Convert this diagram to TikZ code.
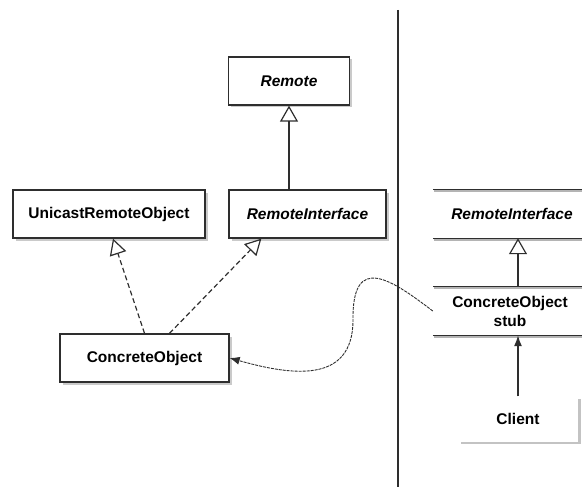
\documentclass[tikz,border=0pt]{standalone}
\usepackage{fontspec}
\setmainfont{Liberation Sans}
\usetikzlibrary{arrows.meta,shadows,calc}

\definecolor{ink}{HTML}{2E2E2E}
\definecolor{shade}{HTML}{B4B4B4}

\tikzset{
  classbox/.style={draw=ink, line width=1.3pt, fill=white, rectangle,
    minimum height=48pt, inner sep=0pt,
    font=\fontsize{15.5}{18}\selectfont\bfseries,
    drop shadow={shadow xshift=2.5pt, shadow yshift=-2.5pt, fill=shade, opacity=0.7}},
  iface/.style={font=\fontsize{15.5}{18}\selectfont\bfseries\itshape},
  openbox/.style={rectangle, minimum height=48pt, inner sep=0pt,
    align=center, font=\fontsize{15.5}{18}\selectfont\bfseries},
  rule/.style={draw=ink, line width=1.3pt},
  ruleshade/.style={draw=shade, line width=2pt},
  realizes/.style={draw=ink, line width=1.2pt, dash pattern=on 5pt off 3pt,
    -{Triangle[open, length=16pt, width=17pt, line width=1.2pt]}},
  extends/.style={draw=ink, line width=1.4pt,
    -{Triangle[open, length=16pt, width=18pt, line width=1.2pt]}},
  calls/.style={draw=ink, line width=1.4pt, -{Latex[length=11pt, width=8pt]}},
  remotecall/.style={draw=ink, line width=0.9pt, dash pattern=on 3pt off 1pt,
    -{Latex[length=10pt, width=8pt]}},
}

\begin{document}
\begin{tikzpicture}[x=1pt, y=-1pt]
  \useasboundingbox (0,0) rectangle (582,487);
  \clip (0,0) rectangle (582,487);

  % server side
  \node[classbox, iface, minimum width=121pt] (remote) at (289,81) {Remote};
  \node[classbox, minimum width=192pt] (unicast) at (109,214) {UnicastRemoteObject};
  \node[classbox, iface, minimum width=157pt] (riface) at (307.5,214) {RemoteInterface};
  \node[classbox, minimum width=169pt] (concrete) at (144.5,358) {ConcreteObject};

  % divider between server and client
  \coordinate (divtop) at (398,10);
  \coordinate (divbot) at (398,487);
  \draw[draw=ink, line width=1.3pt] (divtop) -- (divbot);

  % client side: boxes open on both ends, only top and bottom rules
  \node[openbox, iface, minimum width=158pt] (rifaceR) at (512,214) {RemoteInterface};
  \node[openbox, minimum width=154pt] (stub) at (510,311) {ConcreteObject\\[1pt]stub};

  \foreach \n in {rifaceR, stub} {
    \draw[ruleshade] ($(\n.north west)+(1,1.6)$) -- ($(\n.north east)+(20,1.6)$);
    \draw[ruleshade] ($(\n.south west)+(1,1.6)$) -- ($(\n.south east)+(20,1.6)$);
    \draw[rule] (\n.north west) -- ($(\n.north east)+(20,0)$);
    \draw[rule] (\n.south west) -- ($(\n.south east)+(20,0)$);
  }

  \node[rectangle, fill=white, minimum width=120pt, minimum height=45pt,
        inner sep=0pt, font=\fontsize{15.5}{18}\selectfont\bfseries,
        drop shadow={shadow xshift=2.5pt, shadow yshift=-2.5pt, fill=shade, opacity=0.8}]
        (client) at (518,419) {Client};

  % inheritance
  \draw[extends] (remote.south |- riface.north) -- (remote.south);
  \draw[extends] (client.north |- stub.north) -- (client.north |- rifaceR.south);

  % realisation
  \draw[realizes] (concrete.north) -- ([xshift=4pt]unicast.south);
  \draw[realizes] ([xshift=25pt]concrete.north) -- ([xshift=33pt]riface.south west);

  % calls
  \draw[calls] (client.north) -- (client.north |- stub.south);
  \draw[remotecall] (stub.west)
      .. controls (392,280) and (352,252) .. (353,320)
      .. controls (353,385) and (290,375) .. (concrete.east);
\end{tikzpicture}
\end{document}
